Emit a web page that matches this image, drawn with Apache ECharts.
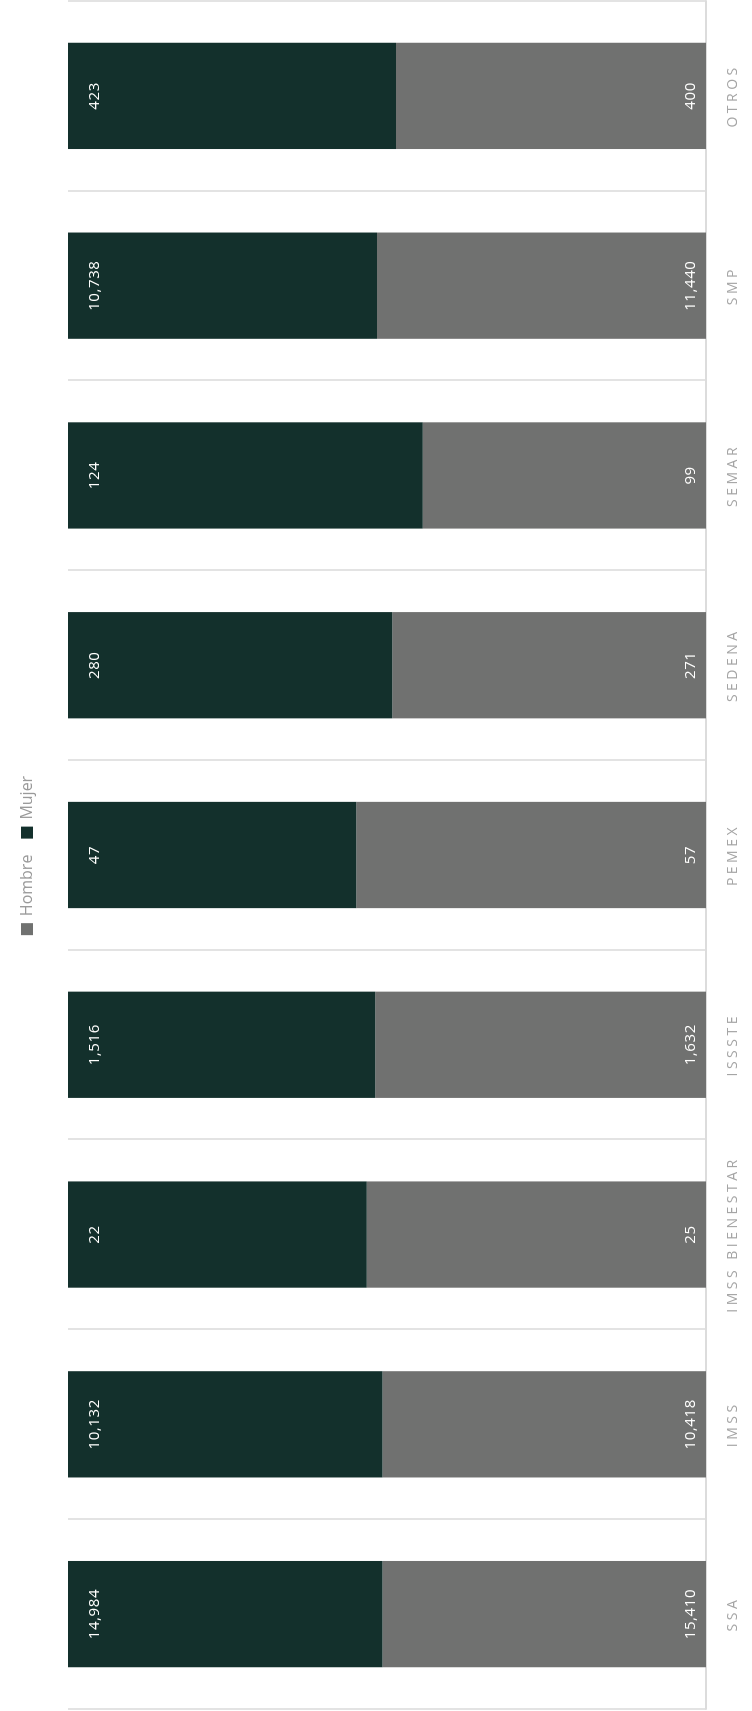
<!DOCTYPE html>
<html>
<head>
<meta charset="utf-8">
<script src="https://cdn.jsdelivr.net/npm/echarts@6/dist/echarts.min.js"></script>
<style>
  html, body { margin: 0; padding: 0; width: 752px; height: 1711px; overflow: hidden; background: #ffffff; }
  #chart {
    position: absolute; left: 0; top: 0;
    width: 1711px; height: 752px;
    transform-origin: 0 0;
    transform: translateY(1711px) rotate(-90deg);
  }
</style>
</head>
<body>
<div id="chart"></div>
<script>
const categories = ['SSA', 'IMSS', 'IMSS BIENESTAR', 'ISSSTE', 'PEMEX', 'SEDENA', 'SEMAR', 'SMP', 'OTROS'];
const hombre = [15410, 10418, 25, 1632, 57, 271, 99, 11440, 400];
const mujer  = [14984, 10132, 22, 1516, 47, 280, 124, 10738, 423];
const seriesNames = ['Hombre', 'Mujer'];

// letter spacing for axis labels (canvas feature)
const AXIS_COLOR = '#a5a5a5';
const origFill = CanvasRenderingContext2D.prototype.fillText;
CanvasRenderingContext2D.prototype.fillText = function (t, x, y, w) {
  if ('letterSpacing' in this) {
    const fs = String(this.fillStyle).toLowerCase();
    this.letterSpacing = fs === AXIS_COLOR ? '3.5px' : (fs === '#fffffe' ? '0.6px' : '0px');
  }
  return w === undefined ? origFill.call(this, t, x, y) : origFill.call(this, t, x, y, w);
};

const totals = hombre.map((h, i) => h + mujer[i]);
const hombrePct = hombre.map((h, i) => h / totals[i] * 100);
const mujerPct = mujer.map((m, i) => m / totals[i] * 100);
const fmt = v => v.toLocaleString('en-US');

const chart = echarts.init(document.getElementById('chart'), null, { renderer: 'canvas' });
const FONT = '"Open Sans", "Noto Sans", sans-serif';
chart.setOption({
  animation: false,
  textStyle: { fontFamily: FONT },
  legend: {
    data: seriesNames,
    top: 14,
    left: 'center',
    itemWidth: 12,
    itemHeight: 12,
    itemGap: 16,
    icon: 'rect',
    textStyle: { color: '#9a9a9a', fontSize: 16, fontFamily: FONT, padding: [0, 0, 0, 2] }
  },
  grid: { left: 2, right: 1, top: 68, bottom: 46, containLabel: false },
  xAxis: {
    type: 'category',
    data: categories,
    position: 'bottom',
    axisLine: { show: true, lineStyle: { color: '#dcdcdc', width: 2 } },
    axisTick: { show: false },
    axisLabel: { color: AXIS_COLOR, fontSize: 14, margin: 20, interval: 0, fontFamily: FONT },
    splitLine: { show: true, interval: 0, lineStyle: { color: '#e3e3e3', width: 2 } }
  },
  yAxis: {
    type: 'value', min: 0, max: 100, show: false
  },
  series: [
    {
      name: 'Hombre', type: 'bar', stack: 'total', data: hombrePct, barWidth: '56%',
      itemStyle: { color: '#707170' },
      label: {
        show: true, position: 'insideBottom', distance: 8, color: '#fffffe', fontSize: 15, fontFamily: FONT,
        formatter: p => fmt(hombre[p.dataIndex])
      }
    },
    {
      name: 'Mujer', type: 'bar', stack: 'total', data: mujerPct, barWidth: '56%',
      itemStyle: { color: '#13302c' },
      label: {
        show: true, position: 'insideTop', distance: 19, color: '#fffffe', fontSize: 15, fontFamily: FONT,
        formatter: p => fmt(mujer[p.dataIndex])
      }
    }
  ]
});
</script>
</body>
</html>
